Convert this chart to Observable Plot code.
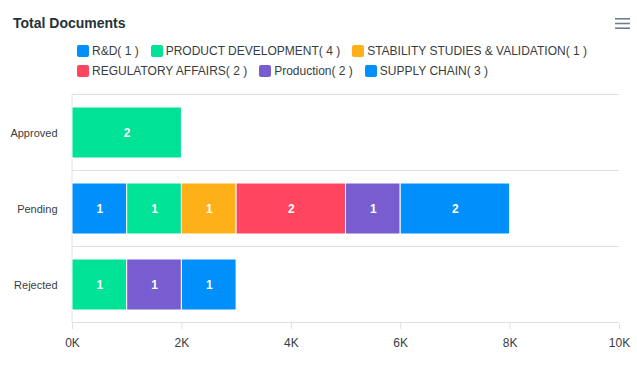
<!DOCTYPE html>
<html><head><meta charset="utf-8">
<script src="https://cdn.jsdelivr.net/npm/d3@7"></script>
<script src="https://cdn.jsdelivr.net/npm/@observablehq/plot@0.6"></script>
<style>
body{margin:0;background:#fff;font-family:"Liberation Sans",Arial,Helvetica,sans-serif;}
#wrap{position:relative;width:637px;height:366px;overflow:hidden;}
#title{position:absolute;left:13px;top:15px;font-size:14px;font-weight:bold;color:#263238;}
#menu{position:absolute;left:615px;top:18px;}
#legend{position:absolute;left:77px;top:44px;width:560px;display:flex;flex-wrap:wrap;row-gap:3px;}
.item{display:flex;align-items:center;margin-right:12px;font-size:12px;color:#373d3f;height:14px;white-space:nowrap;}
.sw{width:12px;height:12px;border-radius:2px;margin-right:3px;}
.br{flex-basis:100%;height:0;}
#chart{position:absolute;left:0;top:80px;}
</style></head>
<body>
<div id="wrap">
  <div id="title">Total Documents</div>
  <svg id="menu" width="16" height="12"><rect x="0" y="0" width="15" height="1.6" fill="#6e8192"/><rect x="0" y="4.7" width="15" height="1.6" fill="#6e8192"/><rect x="0" y="9.4" width="15" height="1.6" fill="#6e8192"/></svg>
  <div id="legend"></div>
  <div id="chart"></div>
</div>
<script>
const statuses = ["Approved", "Pending", "Rejected"];
const departments = ["R&D", "PRODUCT DEVELOPMENT", "STABILITY STUDIES & VALIDATION", "REGULATORY AFFAIRS", "Production", "SUPPLY CHAIN"];
const colors = ["#008FFB", "#00E396", "#FEB019", "#FF4560", "#775DD0", "#008FFB"];
// document counts per department, for each status
const approved = [0, 2, 0, 0, 0, 0];
const pending  = [1, 1, 1, 2, 1, 2];
const rejected = [0, 1, 0, 0, 1, 1];
const xTicks = [0, 2000, 4000, 6000, 8000, 10000];
const unit = 1000;

const byStatus = [approved, pending, rejected];
const rows = [];
statuses.forEach((s, i) => departments.forEach((d, j) => {
  const c = byStatus[i][j];
  if (c > 0) rows.push({status: s, dept: d, count: c});
}));

// legend
const legend = document.getElementById("legend");
departments.forEach((d, j) => {
  const total = byStatus.reduce((a, arr) => a + arr[j], 0);
  const it = document.createElement("div");
  it.className = "item";
  const sw = document.createElement("div");
  sw.className = "sw";
  sw.style.background = colors[j];
  const tx = document.createElement("span");
  tx.textContent = `${d}( ${total} )`;
  it.append(sw, tx);
  legend.append(it);
  if (j === 2) { const br = document.createElement("div"); br.className = "br"; legend.append(br); }
});

function grid(index, scales, values, dimensions) {
  const y = scales.y, x = scales.x;
  const bw = typeof y.bandwidth === "function" ? y.bandwidth() : y.bandwidth;
  const step = y(statuses[1]) - y(statuses[0]);
  const gap = (step - bw) / 2;
  const ys = [y(statuses[0]) - gap, ...statuses.map(s => y(s) + bw + gap)];
  const x0 = x(0), x1 = x(xTicks[xTicks.length - 1]);
  const g = d3.create("svg:g");
  g.selectAll("line").data(ys).join("line")
    .attr("x1", x0).attr("x2", x1).attr("y1", d => d).attr("y2", d => d)
    .attr("stroke", "#e0e0e0").attr("stroke-width", 1);
  g.append("line").attr("x1", x0).attr("x2", x0).attr("y1", ys[0]).attr("y2", ys[ys.length - 1])
    .attr("stroke", "#e0e0e0");
  return g.node();
}

const chart = Plot.plot({
  width: 637,
  height: 286,
  marginTop: 14,
  marginBottom: 43,
  marginLeft: 72,
  marginRight: 18,
  style: {fontFamily: "'Liberation Sans', Arial, Helvetica, sans-serif", fontSize: "12px", background: "white"},
  x: {domain: [0, 10000]},
  y: {domain: statuses, paddingInner: 0.33, paddingOuter: 0.165},
  color: {domain: departments, range: colors},
  marks: [
    grid,
    Plot.barX(rows, {y: "status", x: d => d.count * unit, fill: "dept", stroke: "white", strokeWidth: 1}),
    Plot.text(rows, Plot.stackX({y: "status", x: d => d.count * unit, text: d => String(d.count), fill: "white", fontWeight: "bold", fontSize: 12})),
    Plot.axisX({ticks: xTicks, tickFormat: d => d / 1000 + "K", tickSize: 6, tickPadding: 9, stroke: "#e0e0e0", strokeOpacity: 1, fill: "#373d3f", fontSize: 12, label: null}),
    Plot.axisY({tickSize: 0, tickPadding: 15, fill: "#373d3f", fontSize: 11, label: null})
  ]
});
document.getElementById("chart").append(chart);
</script>
</body></html>
